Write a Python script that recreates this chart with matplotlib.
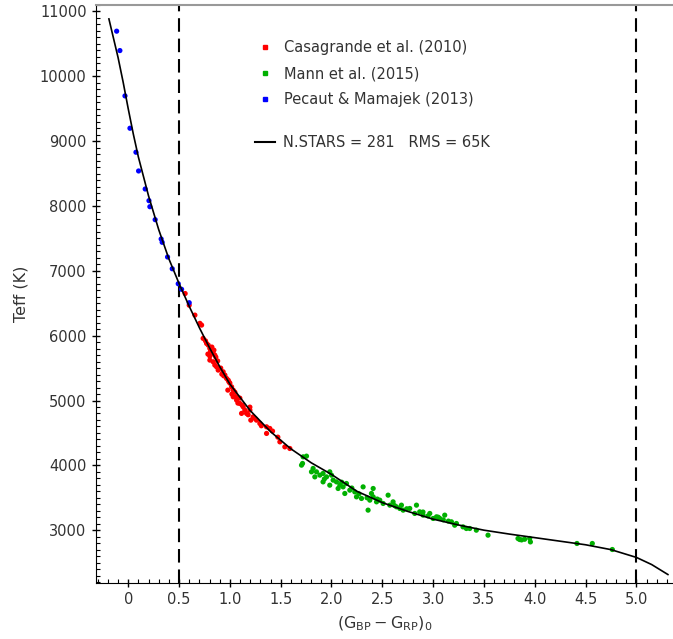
import numpy as np
import matplotlib
matplotlib.use("Agg")
import matplotlib.pyplot as plt
from matplotlib.lines import Line2D
from matplotlib.ticker import MultipleLocator, FixedLocator

# Pecaut & Mamajek (2013)
blue_x = [-0.114, -0.082, -0.032, 0.017, 0.076, 0.102, 0.167, 0.204, 0.213, 0.265,
          0.324, 0.334, 0.387, 0.433, 0.492, 0.525, 0.600]
blue_y = [10696, 10397, 9698, 9199, 8829, 8540, 8262, 8082, 7989, 7789,
          7491, 7440, 7213, 7032, 6801, 6715, 6508]

# Casagrande et al. (2010)
red_x = [0.56, 0.60, 0.656, 0.705, 0.722, 0.737, 0.771, 0.787, 0.803, 0.820,
         0.836, 0.852, 0.823, 0.843, 0.862, 0.803, 0.784, 0.803, 0.836, 0.852,
         0.869, 0.885, 0.934, 0.951, 0.967, 0.983, 0.921, 1.000, 1.017, 1.033,
         0.980, 1.049, 1.033, 1.066, 1.098, 1.079, 1.098, 1.131, 1.115, 1.164,
         1.147, 1.197, 1.197, 1.229, 1.206, 1.262, 1.295, 1.361, 1.393, 1.361,
         1.420, 1.492, 1.541, 1.590, 1.472, 0.76, 0.81, 0.88, 0.91, 0.99,
         1.02, 1.06, 1.12, 1.25, 1.31, 1.18, 0.94]
red_y = [6650, 6470, 6317, 6190, 6163, 5958, 5880, 5855, 5803, 5777,
         5726, 5700, 5824, 5777, 5669, 5685, 5716, 5623, 5597, 5546,
         5520, 5469, 5443, 5392, 5341, 5315, 5407, 5268, 5211, 5160,
         5160, 5129, 5057, 5006, 5037, 4960, 4955, 4903, 4801, 4801,
         4852, 4898, 4852, 4748, 4697, 4697, 4646, 4594, 4569, 4492,
         4528, 4362, 4285, 4260, 4435, 5920, 5760, 5610, 5500, 5290,
         5100, 5060, 4930, 4720, 4610, 4780, 5380]

# Mann et al. (2015)
green_x = [1.721, 1.754, 1.715, 1.705, 1.819, 1.852, 1.803, 1.917, 1.951, 1.983,
           2.000, 2.016, 1.917, 1.983, 2.049, 2.082, 2.114, 2.147, 2.131, 2.180,
           2.229, 2.246, 2.295, 2.311, 2.360, 2.377, 2.410, 2.443, 2.475, 2.508,
           2.557, 2.574, 2.606, 2.639, 2.672, 2.705, 2.770, 2.836, 2.819, 2.868,
           2.901, 2.967, 3.000, 3.033, 3.065, 3.114, 3.180, 3.212, 3.229, 3.294,
           3.327, 3.360, 3.425, 3.540, 3.835, 3.851, 3.950, 3.957, 4.415, 4.566,
           4.763, 1.836, 1.885, 2.065, 2.410, 2.393, 2.688, 1.930, 2.100, 2.200,
           2.270, 2.350, 2.450, 2.620, 2.740, 2.900, 3.100, 3.150, 3.050, 2.950,
           3.870, 3.900]
green_y = [4131, 4142, 4029, 4003, 3952, 3900, 3900, 3875, 3822, 3900,
           3849, 3772, 3745, 3694, 3745, 3694, 3668, 3720, 3566, 3617,
           3591, 3514, 3489, 3668, 3309, 3463, 3514, 3437, 3463, 3412,
           3540, 3386, 3437, 3360, 3335, 3309, 3335, 3386, 3258, 3283,
           3232, 3258, 3181, 3206, 3181, 3232, 3129, 3077, 3103, 3051,
           3026, 3026, 3000, 2923, 2872, 2856, 2872, 2819, 2795, 2795,
           2702, 3822, 3849, 3643, 3643, 3566, 3386, 3790, 3740, 3650,
           3560, 3500, 3480, 3380, 3330, 3280, 3160, 3140, 3200, 3220,
           2850, 2860]

# fitted relation
fit_x = [-0.19, -0.10, -0.05, 0.00, 0.05, 0.10, 0.20, 0.30, 0.40, 0.50,
         0.60, 0.70, 0.80, 0.90, 1.00, 1.20, 1.40, 1.60, 1.80, 2.00,
         2.25, 2.50, 2.75, 3.00, 3.25, 3.50, 3.75, 4.00, 4.25, 4.50,
         4.75, 5.00, 5.15, 5.31]
fit_y = [10885, 10290, 9910, 9500, 9110, 8755, 8155, 7635, 7185, 6805,
         6453, 6123, 5813, 5523, 5253, 4845, 4520, 4255, 4040, 3860,
         3600, 3425, 3290, 3170, 3080, 3000, 2940, 2885, 2830, 2775,
         2700, 2580, 2470, 2316]

limits = [0.5, 5.0]
xticks = [0, 0.5, 1.0, 1.5, 2.0, 2.5, 3.0, 3.5, 4.0, 4.5, 5.0]
xticklabels = ["0", "0.5", "1.0", "1.5", "2.0", "2.5", "3.0", "3.5", "4.0", "4.5", "5.0"]
yticks = [3000, 4000, 5000, 6000, 7000, 8000, 9000, 10000, 11000]

txt = "#333333"
fig = plt.figure(figsize=(6.73, 6.39), dpi=100)
ax = fig.add_axes([0.1422, 0.0881, 0.8578, 0.9041])

ax.scatter(red_x, red_y, s=14, color="#ff0000", edgecolors="none", zorder=2)
ax.scatter(green_x, green_y, s=14, color="#00b000", edgecolors="none", zorder=2)
ax.scatter(blue_x, blue_y, s=14, color="#0000ff", edgecolors="none", zorder=2)
ax.plot(fit_x, fit_y, color="black", lw=1.2, zorder=3)
for xv in limits:
    ax.axvline(xv, color="black", lw=1.5, linestyle=(0, (6.5, 3.3)), zorder=1)

ax.set_xlim(-0.32, 5.36)
ax.set_ylim(2190, 11100)
ax.xaxis.set_major_locator(FixedLocator(xticks))
ax.set_xticklabels(xticklabels)
ax.xaxis.set_minor_locator(MultipleLocator(0.1))
ax.set_yticks(yticks)
ax.yaxis.set_minor_locator(MultipleLocator(100))
ax.tick_params(which="major", direction="inout", length=6, width=1, labelsize=10.5, labelcolor=txt)
ax.tick_params(which="minor", direction="in", length=3, width=0.8)
ax.spines["right"].set_visible(False)
ax.spines["top"].set_color("#999999")
ax.spines["top"].set_linewidth(1.5)
ax.set_xlabel(r"$(\mathrm{G}_{\mathrm{BP}} - \mathrm{G}_{\mathrm{RP}})_0$", fontsize=11.5, color=txt, labelpad=6)
ax.set_ylabel("Teff (K)", fontsize=11.5, color=txt, labelpad=8)

handles = [Line2D([], [], marker="s", ms=2.5, ls="none", color=c) for c in ["#ff0000", "#00b000", "#0000ff"]]
labels = ["Casagrande et al. (2010)", "Mann et al. (2015)", "Pecaut & Mamajek (2013)"]
leg1 = ax.legend(handles, labels, loc="upper left", bbox_to_anchor=(0.383, 0.937),
                 bbox_transform=fig.transFigure, frameon=False, fontsize=10.5,
                 handlelength=1.0, handletextpad=0.8, labelspacing=0.75, labelcolor=txt,
                 borderpad=0, borderaxespad=0)
ax.add_artist(leg1)
ax.legend([Line2D([], [], color="black", lw=1.5)], ["N.STARS = 281   RMS = 65K"],
          loc="upper left", bbox_to_anchor=(0.379, 0.789), bbox_transform=fig.transFigure,
          frameon=False, fontsize=10.5, handlelength=1.4, handletextpad=0.5, labelcolor=txt,
          borderpad=0, borderaxespad=0)

fig.savefig("out.png", dpi=100)
